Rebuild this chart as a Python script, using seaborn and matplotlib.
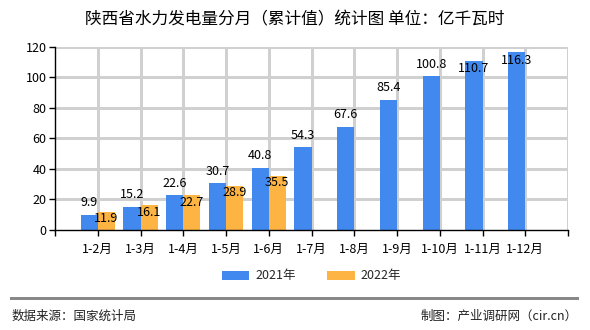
import matplotlib
matplotlib.use("Agg")
import matplotlib.pyplot as plt
import seaborn as sns
import pandas as pd
import numpy as np

categories = ["1-2月", "1-3月", "1-4月", "1-5月", "1-6月", "1-7月", "1-8月",
              "1-9月", "1-10月", "1-11月", "1-12月"]
values_2021 = [9.9, 15.2, 22.6, 30.7, 40.8, 54.3, 67.6, 85.4, 100.8, 110.7, 116.3]
values_2022 = [11.9, 16.1, 22.7, 28.9, 35.5, None, None, None, None, None, None]
series_names = ["2021年", "2022年"]
title = "陕西省水力发电量分月（累计值）统计图 单位：亿千瓦时"
source_text = "数据来源：国家统计局"
credit_text = "制图：产业调研网（cir.cn）"

sns.set_theme(style="white")
plt.rcParams['font.family'] = ['Noto Sans CJK SC', 'DejaVu Sans']

rows = []
for c, v in zip(categories, values_2021):
    rows.append({"cat": c, "val": v, "year": series_names[0]})
for c, v in zip(categories, values_2022):
    rows.append({"cat": c, "val": np.nan if v is None else v, "year": series_names[1]})
df = pd.DataFrame(rows)

colors = ["#4189ef", "#fdb443"]
grid_color = "#d0d0d0"
fig = plt.figure(figsize=(5.9, 3.3), dpi=100)
ax = fig.add_axes([55/590, 1-230/330, (568-55)/590, (230-46.7)/330])
sns.barplot(data=df, x="cat", y="val", hue="year", order=categories,
            hue_order=series_names, palette=colors, width=0.8, saturation=1,
            ax=ax, legend=True, errorbar=None, linewidth=0, edgecolor="none",
            zorder=2)

n = len(categories)
ax.set_xlim(-1, n)
ax.set_ylim(0, 120)
ax.set_yticks(range(0, 121, 20))
ax.set_xticks(range(-1, n + 1))
ax.set_xticklabels([""] + categories + [""])
ax.set_xlabel("")
ax.set_ylabel("")
ax.grid(False)
for yv in range(20, 121, 20):
    ax.axhline(yv, color=grid_color, linewidth=0.75, zorder=1, antialiased=False)
for xv in range(0, n + 1):
    ax.axvline(xv, color=grid_color, linewidth=0.75, zorder=1, antialiased=False)
for s in ["top", "right"]:
    ax.spines[s].set_visible(False)
for s in ["left", "bottom"]:
    ax.spines[s].set_visible(True)
    ax.spines[s].set_color("black")
    ax.spines[s].set_linewidth(1)
    ax.spines[s].set_zorder(3)
ax.tick_params(axis="both", direction="out", length=4, width=1, color="black",
               labelsize=9, labelcolor="black", pad=2, bottom=True, left=True)
ax.tick_params(axis="x", pad=5)

px_per_unit = (230 - 46.7) / 120
for i, v in enumerate(values_2021):
    x = i - 0.2
    y = v + 12 / px_per_unit
    if y > 118:
        y = v - 8 / px_per_unit
    ax.text(x, y, f"{v}", ha="center", va="center", fontsize=9, color="black", zorder=4)
for i, v in enumerate(values_2022):
    if v is None:
        continue
    x = i + 0.2
    y = v - 7 / px_per_unit
    ax.text(x, y, f"{v}", ha="center", va="center", fontsize=9, color="black", zorder=4)

ax.legend(loc="center", bbox_to_anchor=(0.5, -((276 - 230) / (230 - 46.7))),
          ncol=2, frameon=False, fontsize=9, handlelength=2.2, handleheight=0.7,
          columnspacing=2.5, handletextpad=0.5)

fig.text(0.5, 1 - 20/330, title, ha="center", va="center", fontsize=12, color="black")
fig.add_artist(plt.Line2D([10/590, 578/590], [1-298/330, 1-298/330], color="#888888",
                          linewidth=0.75, antialiased=False))
fig.text(12/590, 1 - 316/330, source_text, ha="left", va="center", fontsize=9, color="#222222")
fig.text(578/590, 1 - 316/330, credit_text, ha="right", va="center", fontsize=9, color="#222222")

fig.savefig("out.png", dpi=100)
